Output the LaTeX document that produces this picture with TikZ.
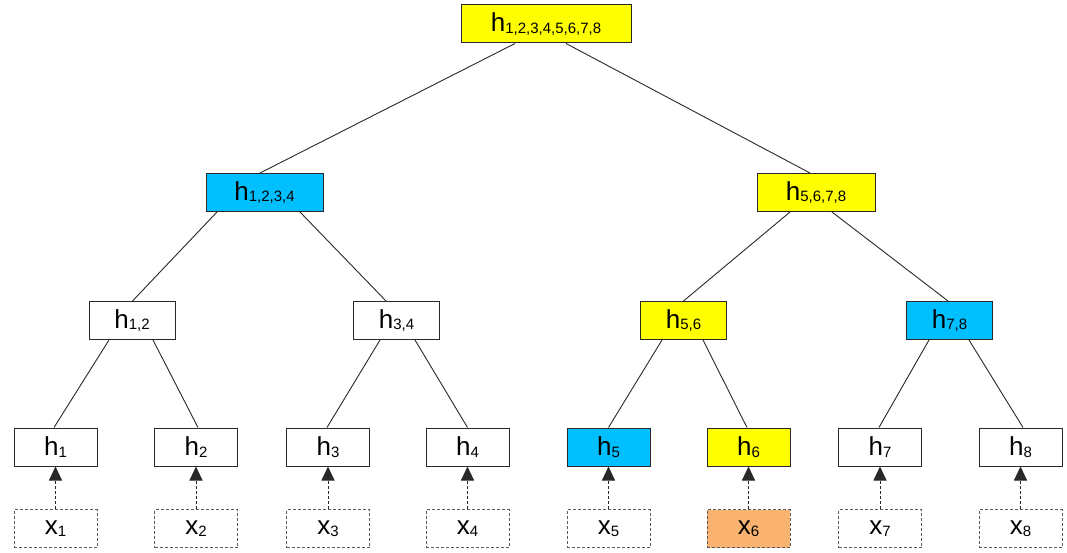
\documentclass[tikz,border=0pt]{standalone}
\usepackage{fontspec}
\setmainfont{Liberation Sans}
\usetikzlibrary{arrows.meta}

\definecolor{hyellow}{RGB}{255,255,0}
\definecolor{hcyan}{RGB}{0,191,255}
\definecolor{horange}{RGB}{250,178,112}
\definecolor{edgegray}{RGB}{40,40,40}
\definecolor{dashgray}{RGB}{90,90,90}

% label with a lowered, smaller index list
\newcommand{\lbl}[2]{#1\raisebox{-1.5pt}{\fontsize{15pt}{15pt}\selectfont #2}}

\tikzset{
  hbox/.style={draw=edgegray, line width=1pt, fill=white, inner sep=0pt,
    minimum height=38pt, minimum width=83pt,
    font=\fontsize{26pt}{26pt}\selectfont},
  xbox/.style={hbox, draw=dashgray, dash pattern=on 3pt off 2pt},
  treeedge/.style={draw=edgegray, line width=0.9pt},
  feed/.style={draw=edgegray, line width=1pt, dash pattern=on 3pt off 2pt,
    -{Triangle[length=14pt,width=13pt]}}
}

\begin{document}
\begin{tikzpicture}[x=1pt, y=-1pt]
\useasboundingbox (0,0) rectangle (1067,553);

% root
\node[hbox, fill=hyellow, minimum width=170pt] (h18) at (546,24) {\lbl{h}{1,2,3,4,5,6,7,8}};

% second level
\node[hbox, fill=hcyan, minimum width=117pt] (h14) at (264.5,192.5) {\lbl{h}{1,2,3,4}};
\node[hbox, fill=hyellow, minimum width=118pt] (h58) at (816,192.5) {\lbl{h}{5,6,7,8}};

% third level
\node[hbox, minimum width=86pt] (h12) at (132,320.5) {\lbl{h}{1,2}};
\node[hbox, minimum width=86pt] (h34) at (396.5,320.5) {\lbl{h}{3,4}};
\node[hbox, fill=hyellow, minimum width=86pt] (h56) at (683.5,320.5) {\lbl{h}{5,6}};
\node[hbox, fill=hcyan, minimum width=86pt] (h78) at (949.5,320.5) {\lbl{h}{7,8}};

% leaves
\node[hbox] (h1) at (55.5,447) {\lbl{h}{1}};
\node[hbox] (h2) at (196,447) {\lbl{h}{2}};
\node[hbox] (h3) at (328,447) {\lbl{h}{3}};
\node[hbox] (h4) at (467.5,447) {\lbl{h}{4}};
\node[hbox, fill=hcyan] (h5) at (608.5,447) {\lbl{h}{5}};
\node[hbox, fill=hyellow] (h6) at (748.5,447) {\lbl{h}{6}};
\node[hbox] (h7) at (880,447) {\lbl{h}{7}};
\node[hbox] (h8) at (1020.5,447) {\lbl{h}{8}};

% inputs
\node[xbox] (x1) at (55.5,528.5) {\lbl{x}{1}};
\node[xbox] (x2) at (196,528.5) {\lbl{x}{2}};
\node[xbox] (x3) at (328,528.5) {\lbl{x}{3}};
\node[xbox] (x4) at (467.5,528.5) {\lbl{x}{4}};
\node[xbox] (x5) at (608.5,528.5) {\lbl{x}{5}};
\node[xbox, fill=horange] (x6) at (748.5,528.5) {\lbl{x}{6}};
\node[xbox] (x7) at (880,528.5) {\lbl{x}{7}};
\node[xbox] (x8) at (1020.5,528.5) {\lbl{x}{8}};

% tree edges
\draw[treeedge] ([xshift=-31pt]h18.south) -- ([xshift=-4.5pt]h14.north);
\draw[treeedge] ([xshift=20pt]h18.south) -- ([xshift=-6pt]h58.north);

\draw[treeedge] ([xshift=-47.5pt]h14.south) -- ([xshift=0.5pt]h12.north);
\draw[treeedge] ([xshift=35.5pt]h14.south) -- ([xshift=-10.5pt]h34.north);
\draw[treeedge] ([xshift=-26pt]h58.south) -- ([xshift=0pt]h56.north);
\draw[treeedge] ([xshift=16pt]h58.south) -- ([xshift=-1.5pt]h78.north);

\draw[treeedge] ([xshift=-23pt]h12.south) -- ([xshift=-1.5pt]h1.north);
\draw[treeedge] ([xshift=21pt]h12.south) -- ([xshift=2pt]h2.north);
\draw[treeedge] ([xshift=-16.5pt]h34.south) -- ([xshift=-1pt]h3.north);
\draw[treeedge] ([xshift=18.5pt]h34.south) -- ([xshift=0pt]h4.north);
\draw[treeedge] ([xshift=-21.5pt]h56.south) -- ([xshift=0pt]h5.north);
\draw[treeedge] ([xshift=19.5pt]h56.south) -- ([xshift=-1.5pt]h6.north);
\draw[treeedge] ([xshift=-20.5pt]h78.south) -- ([xshift=-1pt]h7.north);
\draw[treeedge] ([xshift=19.5pt]h78.south) -- ([xshift=2.5pt]h8.north);

% inputs feeding the leaves
\foreach \i in {1,...,8}
  \draw[feed] (x\i.north) -- (h\i.south);
\end{tikzpicture}
\end{document}
